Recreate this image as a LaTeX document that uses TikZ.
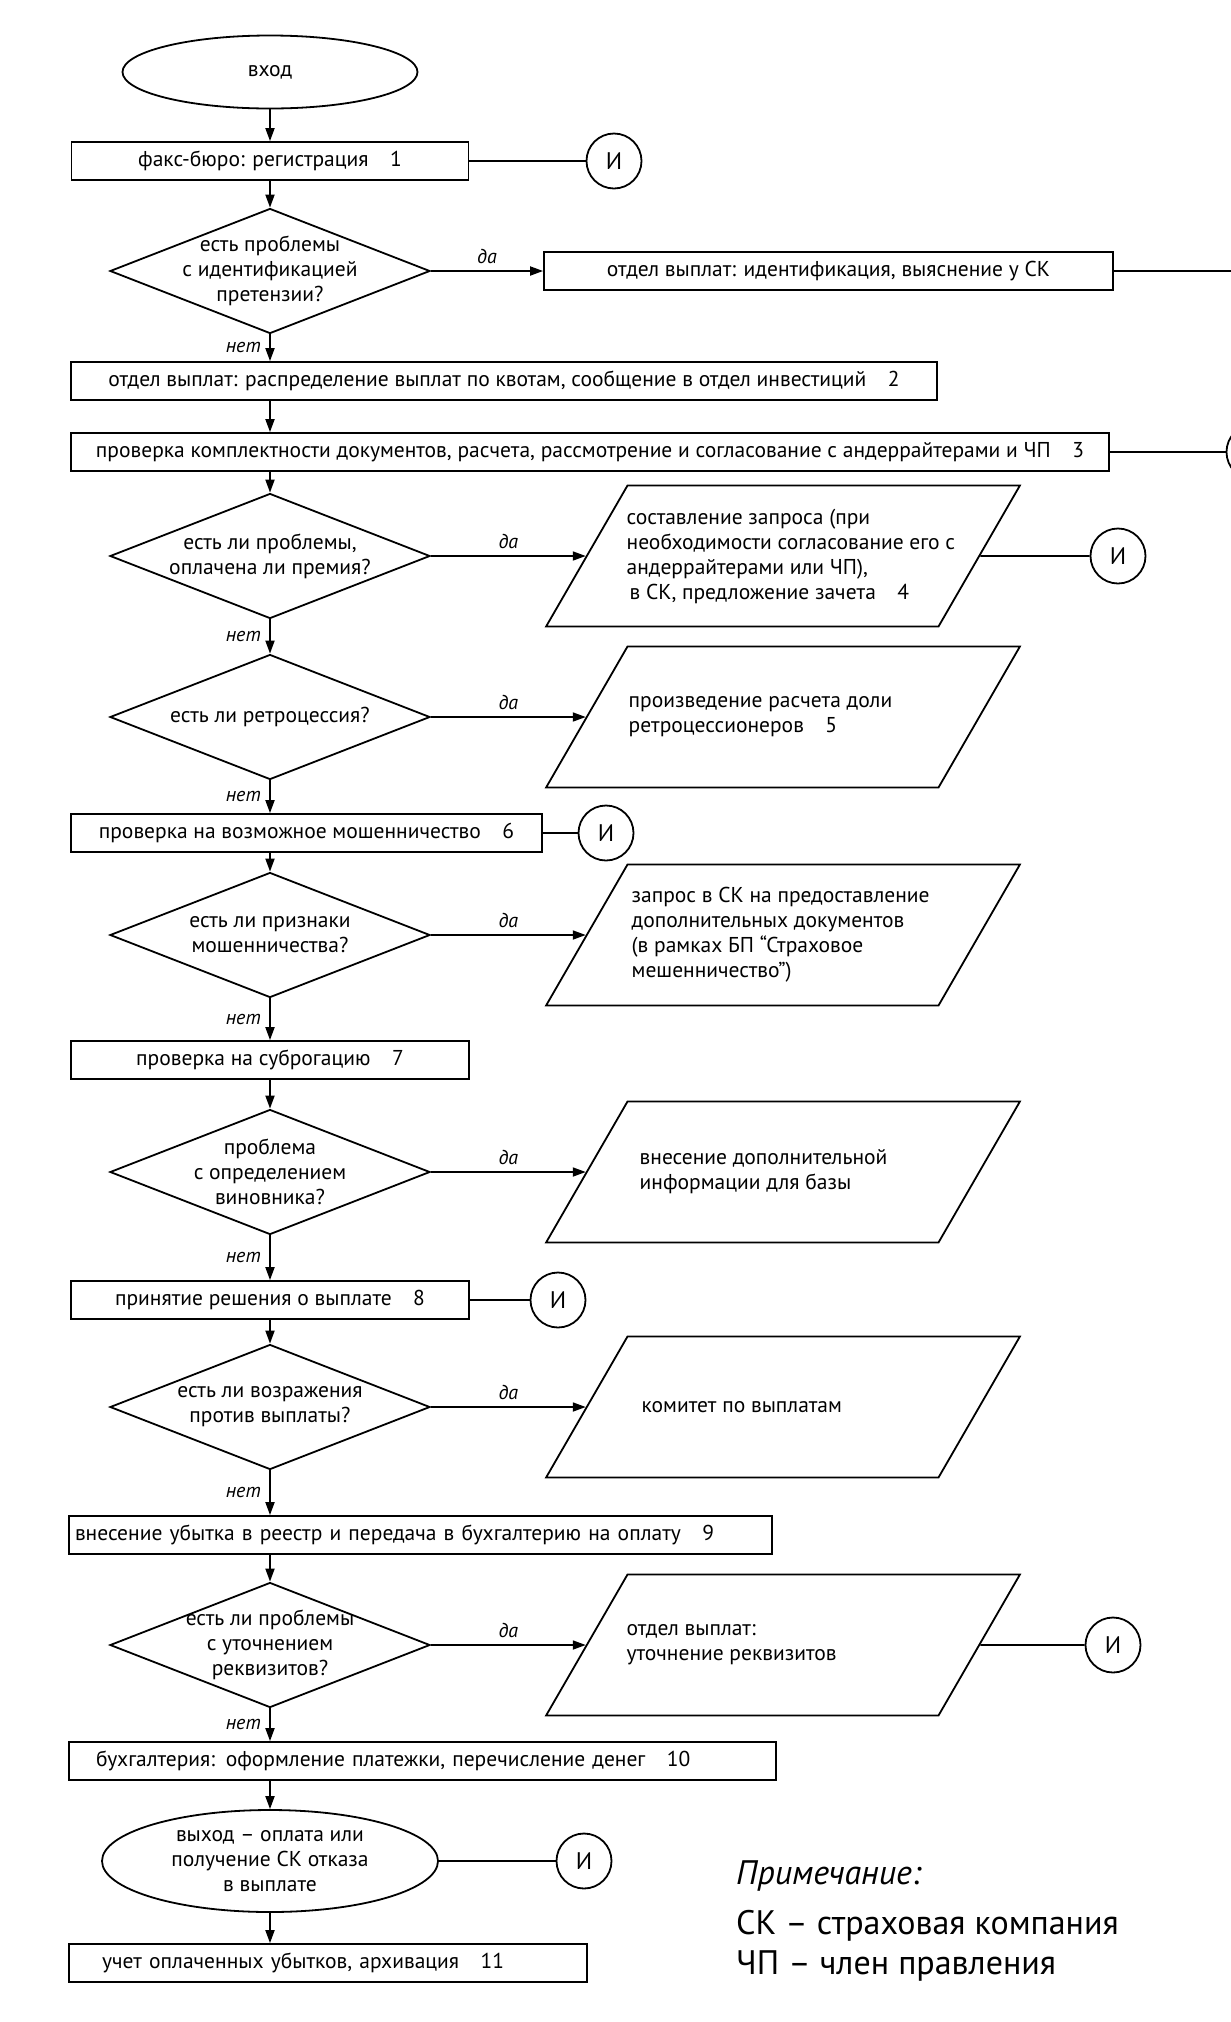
\documentclass[tikz,border=0pt]{standalone}
\usepackage{fontspec}
\setmainfont{PT Sans}
\usetikzlibrary{shapes.geometric,positioning,arrows.meta}

\newcommand{\txt}{\fontsize{21.5}{25}\selectfont}
\newcommand{\lbl}{\itshape\fontsize{20}{22}\selectfont}
\newcommand{\rem}{\fontsize{34}{38}\selectfont}

\begin{document}
\begin{tikzpicture}[x=1pt, y=-1pt, line width=1.8pt,
    proc/.style = {draw, minimum height=38pt, inner sep=0pt, font=\txt},
    term/.style = {draw, ellipse, inner sep=0pt, align=center, font=\txt},
    decision/.style = {draw, diamond, minimum width=320pt,
      minimum height=125pt, inner sep=0pt},
    dtext/.style = {inner sep=0pt, align=center, font=\txt},
    para/.style = {draw, trapezium, trapezium left angle=60,
      trapezium right angle=120, inner sep=0pt,
      text width=311pt, text height=141pt, text depth=0pt},
    ptext/.style = {inner sep=0pt, align=left, font=\txt},
    link/.style = {draw, circle, minimum size=55pt, inner sep=0pt,
      font=\fontsize{24}{26}\selectfont},
    arr/.style = {-{Triangle[length=13pt, width=9pt]}},
    yes/.style = {font=\lbl, above=3pt},
    no/.style = {font=\lbl, left=5pt},
  ]
  \useasboundingbox (0,0) rectangle (1231,2022);

  % main column
  \node[term, minimum width=295pt, minimum height=73pt] (entry) at (270,72) {вход};
  \node[proc, minimum width=397pt] (fax) at (270,161) {факс-бюро: регистрация\quad 1};
  \node[decision, label={[dtext]center:есть проблемы\\с идентификацией\\претензии?}] (q1) at (270,271) {};
  \node[proc, minimum width=866pt] (distrib) at (504,381)
    {отдел выплат: распределение выплат по квотам, сообщение в отдел инвестиций\quad 2};
  \node[proc, minimum width=1038pt] (check) at (590,452)
    {проверка комплектности документов, расчета, рассмотрение и согласование с андеррайтерами и ЧП\quad 3};
  \node[decision, label={[dtext]center:есть ли проблемы,\\оплачена ли премия?}] (q2) at (270,556) {};
  \node[decision, label={[dtext]center:есть ли ретроцессия?}] (q3) at (270,717) {};
  \node[proc, minimum width=471pt] (fraud) at (306.5,833) {проверка на возможное мошенничество\quad 6};
  \node[decision, label={[dtext]center:есть ли признаки\\мошенничества?}] (q4) at (270,935) {};
  \node[proc, minimum width=398pt] (subro) at (270,1060) {проверка на суброгацию\quad 7};
  \node[decision, label={[dtext]center:проблема\\с определением\\виновника?}] (q5) at (270,1172) {};
  \node[proc, minimum width=398pt] (decide) at (270,1300) {принятие решения о выплате\quad 8};
  \node[decision, label={[dtext]center:есть ли возражения\\против выплаты?}] (q6) at (270,1407) {};
  \node[proc, minimum width=703pt, text width=691pt, align=left] (register) at (420.5,1535)
    {внесение убытка в реестр и передача в бухгалтерию на оплату\quad 9};
  \node[decision, label={[dtext]center:есть ли проблемы\\с уточнением\\реквизитов?}] (q7) at (270,1645) {};
  \node[proc, minimum width=707pt, text width=653pt, align=left] (pay) at (422.5,1761)
    {бухгалтерия: оформление платежки, перечисление денег\quad 10};
  \node[term, minimum width=336pt, minimum height=102pt] (exit) at (270,1861)
    {выход – оплата или\\получение СК отказа\\в выплате};
  \node[proc, minimum width=518pt, text width=452pt, align=left] (archive) at (328,1963)
    {учет оплаченных убытков, архивация\quad 11};

  % side branch
  \node[proc, minimum width=569pt] (ident) at (828.5,271) {отдел выплат: идентификация, выяснение у СК};
  \coordinate (offpage) at (1245,271);
  \node[para] (p4) at (783,556) {};
  \node[ptext, right=40pt of p4.west] (t4) {составление запроса (при\\необходимости согласование его с\\андеррайтерами или ЧП),\\\hspace{3pt}в СК, предложение зачета\quad 4};
  \node[para] (p5) at (783,717) {};
  \node[ptext, right=42pt of p5.west] (t5) {произведение расчета доли\\ретроцессионеров\quad 5};
  \node[para] (p6) at (783,935) {};
  \node[ptext, right=45pt of p6.west] (t6) {запрос в СК на предоставление\\дополнительных документов\\(в рамках БП “Страховое\\мешенничество”)};
  \node[para] (p7) at (783,1172) {};
  \node[ptext, right=53pt of p7.west] (t7) {внесение дополнительной\\информации для базы};
  \node[para] (p8) at (783,1407) {};
  \node[ptext, right=55pt of p8.west] (t8) {комитет по выплатам};
  \node[para] (p9) at (783,1645) {};
  \node[ptext, right=40pt of p9.west] (t9) {отдел выплат:\\уточнение реквизитов};

  % circles
  \node[link] (c1) at (614,161) {И};
  \node[link] (c3) at (1254,452) {И};
  \node[link] (c4) at (1118,556) {И};
  \node[link] (c6) at (606,833) {И};
  \node[link] (c8) at (558,1300) {И};
  \node[link] (c9) at (1113,1645) {И};
  \node[link] (c10) at (584,1861) {И};

  % flow down
  \draw[arr] (entry) -- (fax);
  \draw[arr] (fax) -- (q1);
  \draw[arr] (q1.south) -- (q1.south |- distrib.north) node[midway, no] {нет};
  \draw[arr] (q1.south |- distrib.south) -- (q1.south |- check.north);
  \draw[arr] (q2.north |- check.south) -- (q2.north);
  \draw[arr] (q2) -- (q3) node[midway, no] {нет};
  \draw[arr] (q3.south) -- (q3.south |- fraud.north) node[midway, no] {нет};
  \draw[arr] (q4.north |- fraud.south) -- (q4.north);
  \draw[arr] (q4) -- (subro) node[midway, no] {нет};
  \draw[arr] (subro) -- (q5);
  \draw[arr] (q5) -- (decide) node[midway, no] {нет};
  \draw[arr] (decide) -- (q6);
  \draw[arr] (q6.south) -- (q6.south |- register.north) node[midway, no] {нет};
  \draw[arr] (q7.north |- register.south) -- (q7.north);
  \draw[arr] (q7.south) -- (q7.south |- pay.north) node[midway, no] {нет};
  \draw[arr] (exit.north |- pay.south) -- (exit.north);
  \draw[arr] (exit.south) -- (exit.south |- archive.north);

  % yes branches
  \draw[arr] (q1.east) -- (ident) node[midway, yes] {да};
  \draw[arr] (q2.east) -- (p4) node[midway, yes] {да};
  \draw[arr] (q3.east) -- (p5) node[midway, yes] {да};
  \draw[arr] (q4.east) -- (p6) node[midway, yes] {да};
  \draw[arr] (q5.east) -- (p7) node[midway, yes] {да};
  \draw[arr] (q6.east) -- (p8) node[midway, yes] {да};
  \draw[arr] (q7.east) -- (p9) node[midway, yes] {да};

  % links
  \draw (fax) -- (c1);
  \draw (ident) -- (offpage);
  \draw (check) -- (c3);
  \draw (p4) -- (c4);
  \draw (fraud) -- (c6);
  \draw (decide) -- (c8);
  \draw (p9) -- (c9);
  \draw (exit) -- (c10);

  % note
  \node[anchor=west, font=\rem\itshape] (remark) at (732,1876) {Примечание:};
  \node[anchor=west, font=\rem] (sk) at (732,1926) {СК – страховая компания};
  \node[anchor=west, font=\rem] (chp) at (732,1966) {ЧП – член правления};
\end{tikzpicture}
\end{document}
